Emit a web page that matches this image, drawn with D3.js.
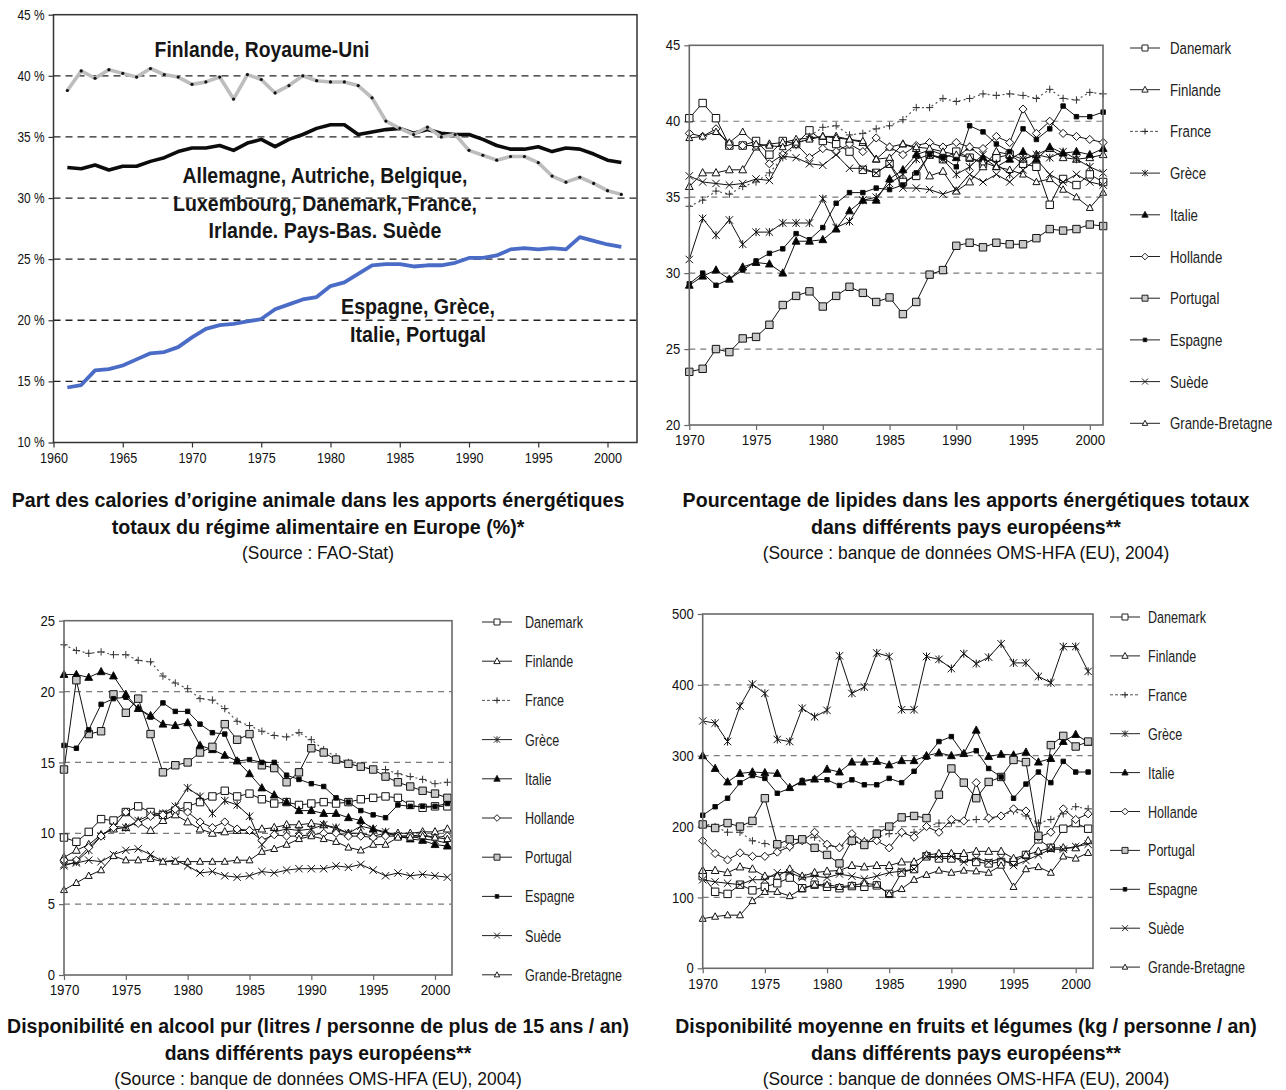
<!DOCTYPE html>
<html><head><meta charset="utf-8">
<script src="https://cdn.jsdelivr.net/npm/d3@7"></script>
<style>
body{margin:0;background:#fff}
svg text{font-family:'Liberation Sans',Arial,sans-serif}
</style></head><body>
<svg id="c" width="1286" height="1090"></svg>
<script>
// ---------- Données ----------
// Part des calories d'origine animale (%), 1961-2001
const anneesAnimal = d3.range(1961, 2002);
const groupeNord = [38.8,40.4,39.8,40.5,40.2,39.9,40.6,40.1,39.9,39.3,39.5,39.9,38.1,40.1,39.7,38.6,39.2,40.0,39.6,39.5,39.5,39.2,38.2,36.3,35.7,35.2,35.8,35.0,35.2,33.9,33.5,33.1,33.4,33.4,32.9,31.8,31.3,31.7,31.2,30.6,30.3];
const groupeCentre = [32.5,32.4,32.7,32.3,32.6,32.6,33.0,33.3,33.8,34.1,34.1,34.3,33.9,34.5,34.8,34.2,34.8,35.2,35.7,36.0,36.0,35.2,35.4,35.6,35.7,35.3,35.6,35.3,35.2,35.2,34.8,34.3,34.0,34.0,34.2,33.8,34.1,34.0,33.6,33.1,32.9];
const groupeSud = [14.5,14.7,15.9,16.0,16.3,16.8,17.3,17.4,17.8,18.6,19.3,19.6,19.7,19.9,20.1,20.9,21.3,21.7,21.9,22.8,23.1,23.8,24.5,24.6,24.6,24.4,24.5,24.5,24.7,25.1,25.1,25.3,25.8,25.9,25.8,25.9,25.8,26.8,26.5,26.2,26.0];
const libellesAnimal = ["Finlande, Royaume-Uni",
  "Allemagne, Autriche, Belgique,", "Luxembourg, Danemark, France,", "Irlande. Pays-Bas. Suède",
  "Espagne, Grèce,", "Italie, Portugal"];

// Séries par pays, 1970-2001
const annees = d3.range(1970, 2002);
const pays = ["Danemark","Finlande","France","Grèce","Italie","Hollande","Portugal","Espagne","Suède","Grande-Bretagne"];

// Lipides (% des apports énergétiques), dans l'ordre de `pays`
const lipides = [
  [40.2,41.2,40.2,38.4,38.4,38.7,37.8,38.7,38.5,39.4,38.7,38.5,38.0,36.8,36.6,37.2,36.0,36.4,37.8,37.5,38.0,37.6,37.2,37.6,37.8,37.2,37.0,34.5,36.2,35.8,36.5,36.0],
  [35.7,36.6,36.6,36.8,36.8,38.3,38.5,38.6,38.8,38.9,39.0,39.0,38.8,38.6,37.5,38.3,38.5,38.2,36.4,36.7,35.4,36.0,37.0,38.0,37.8,37.5,37.8,38.2,37.6,37.5,37.6,37.8],
  [34.4,34.8,35.4,35.2,35.7,36.0,36.6,37.6,38.4,39.0,39.6,39.7,39.1,39.2,39.5,39.7,40.1,40.9,40.9,41.5,41.3,41.5,41.8,41.7,41.8,41.7,41.5,42.1,41.5,41.4,41.9,41.8],
  [30.9,33.6,32.5,33.5,31.9,32.7,32.7,33.3,33.3,33.3,34.9,33.0,33.4,34.8,35.0,35.9,36.5,37.5,37.8,37.5,36.5,37.0,37.8,37.2,36.5,37.5,37.8,37.6,38.0,37.5,37.0,36.6],
  [29.2,29.8,30.2,29.6,30.4,30.7,30.6,30.0,32.1,32.1,32.2,32.9,34.1,34.8,34.8,36.2,36.8,37.8,38.1,37.8,37.6,38.3,37.6,37.0,37.5,38.0,37.5,38.3,37.9,38.0,37.8,38.2],
  [39.2,39.0,39.5,38.4,38.4,38.4,37.2,37.8,38.5,37.6,38.2,38.0,38.5,38.0,38.9,38.3,37.8,38.4,38.6,38.3,38.6,38.3,38.2,39.0,38.6,40.8,39.2,40.0,39.2,39.0,38.8,38.6],
  [23.5,23.7,25.0,24.8,25.7,25.8,26.6,27.9,28.5,28.8,27.8,28.5,29.1,28.7,28.1,28.4,27.3,28.1,29.9,30.2,31.8,32.0,31.7,32.0,31.9,31.9,32.3,32.9,32.8,32.9,33.2,33.1],
  [29.3,30.0,29.2,29.6,30.2,30.8,31.3,31.6,32.6,32.2,33.0,34.6,35.3,35.3,35.6,35.5,35.8,36.6,37.8,37.6,37.0,39.7,39.3,38.5,38.0,39.5,38.8,39.5,41.0,40.3,40.3,40.6],
  [36.4,36.0,35.9,35.8,35.9,36.2,36.1,37.7,37.6,37.2,37.1,37.8,36.9,36.9,36.6,37.2,35.6,35.6,35.5,35.2,35.5,36.5,36.0,36.5,36.0,36.8,37.5,36.5,36.0,36.5,36.0,35.8],
  [38.9,39.0,39.3,38.6,39.3,38.5,38.4,38.3,38.6,38.8,39.0,38.9,38.8,38.7,37.5,37.6,38.5,38.3,38.2,38.0,37.8,37.6,37.3,37.0,36.8,36.5,36.0,36.2,35.5,35.0,34.3,35.3]
];

// Alcool pur (litres / personne de plus de 15 ans / an)
const alcool = [
  [9.7,9.4,10.1,11.0,10.9,11.5,11.9,11.5,11.3,11.6,11.9,12.2,12.6,13.0,12.6,12.8,12.4,12.1,12.2,12.0,12.1,12.2,12.1,12.2,12.4,12.5,12.6,12.5,12.0,11.8,11.9,11.9],
  [8.3,8.8,9.2,9.9,10.3,10.4,10.8,10.2,10.9,11.3,10.8,10.3,10.0,10.1,10.2,10.2,10.3,10.4,10.6,10.6,10.7,10.6,10.3,10.0,10.0,9.8,10.0,10.0,10.0,10.1,10.1,10.3],
  [23.3,22.9,22.7,22.8,22.6,22.6,22.2,22.1,21.1,20.6,20.2,19.5,19.4,18.8,17.9,17.6,17.2,16.9,16.8,17.1,16.6,15.9,15.4,15.0,14.7,14.5,14.5,14.2,14.0,13.8,13.5,13.6],
  [7.7,8.0,8.8,9.8,10.5,10.4,10.9,11.3,11.4,11.9,13.2,12.6,11.4,12.3,12.0,11.2,9.2,10.1,10.3,10.2,10.3,10.6,10.4,10.0,10.5,10.3,10.1,9.8,9.8,9.6,9.5,9.3],
  [21.2,21.2,21.0,21.4,21.1,19.8,18.8,18.3,17.7,17.6,17.8,16.2,15.9,15.5,15.1,14.2,13.2,12.7,12.2,11.6,11.6,11.4,11.4,11.1,10.9,10.3,10.0,9.8,9.6,9.5,9.2,9.1],
  [8.1,8.1,9.0,9.8,10.4,11.5,10.7,11.2,11.3,11.7,11.5,10.8,10.4,10.8,10.3,10.2,9.5,9.9,9.8,9.8,9.9,10.0,10.0,9.8,9.8,9.7,9.8,9.8,9.8,9.9,9.7,9.8],
  [14.5,20.8,17.0,17.2,19.8,18.5,19.5,17.0,14.3,14.8,15.0,15.7,16.1,17.7,16.6,17.0,14.8,14.6,13.6,14.3,16.0,15.7,15.2,14.9,14.7,14.5,14.0,13.6,13.3,13.0,12.8,12.5],
  [16.2,16.0,17.3,19.1,19.5,19.6,18.8,18.2,19.2,18.6,18.6,17.7,17.1,17.0,15.1,15.2,15.0,15.0,14.1,13.8,13.5,13.3,12.5,12.2,11.6,11.3,11.1,12.0,11.9,11.9,11.9,12.1],
  [7.8,7.9,8.1,8.0,8.5,8.8,8.9,8.5,8.0,8.1,7.7,7.2,7.3,7.0,6.9,7.0,7.3,7.2,7.4,7.5,7.5,7.5,7.7,7.6,7.8,7.4,7.0,7.2,7.0,7.1,7.0,6.9],
  [6.0,6.5,7.0,7.4,8.4,8.1,8.1,8.2,8.0,8.0,8.0,8.0,8.0,8.0,8.1,8.1,8.7,8.9,9.2,9.6,9.8,9.6,9.4,9.0,8.8,9.2,9.2,9.7,9.7,9.8,9.7,9.6]
];

// Fruits et légumes (kg / personne / an)
const fruitsLegumes = [
  [130,108,105,118,110,115,120,128,113,118,115,113,116,115,117,105,135,140,158,155,155,155,150,148,150,150,160,182,170,197,205,197],
  [138,138,135,143,140,130,130,140,130,135,137,138,145,143,145,145,150,150,160,162,162,162,165,165,165,155,160,165,170,170,170,180],
  [205,200,192,192,180,176,172,170,182,185,172,172,178,180,185,190,190,192,200,205,205,208,210,210,215,222,215,205,210,218,228,225],
  [349,346,320,370,401,388,323,320,367,355,364,441,388,397,445,440,365,365,440,436,423,444,430,439,458,431,431,412,403,454,454,419],
  [300,282,263,275,277,276,275,255,263,267,281,277,291,291,292,287,293,293,300,304,300,303,336,299,302,301,305,291,296,320,330,319],
  [180,162,153,163,158,158,164,172,180,192,175,170,190,178,180,170,192,185,200,192,210,208,262,212,215,225,222,185,192,225,210,218],
  [203,198,205,200,208,240,175,182,182,170,160,148,180,174,190,200,213,215,212,245,282,262,240,263,270,294,291,187,315,328,313,320],
  [216,228,240,262,272,268,247,254,265,267,266,258,266,259,259,268,262,278,298,320,327,302,307,282,270,240,260,277,262,292,277,277],
  [125,122,120,118,125,125,135,135,128,130,128,133,130,126,130,135,137,140,158,157,158,150,155,150,155,145,152,160,168,168,172,175],
  [70,73,75,75,95,108,108,102,112,118,118,115,117,120,118,105,112,125,132,138,135,138,137,135,145,115,140,143,135,158,155,163]
];

const titres = {
  animal: ["Part des calories d\u2019origine animale dans les apports énergétiques", "totaux du régime alimentaire en Europe (%)*", "(Source : FAO-Stat)"],
  lipides: ["Pourcentage de lipides dans les apports énergétiques totaux", "dans différents pays européens**", "(Source : banque de données OMS-HFA (EU), 2004)"],
  alcool: ["Disponibilité en alcool pur (litres / personne de plus de 15 ans / an)", "dans différents pays européens**", "(Source : banque de données OMS-HFA (EU), 2004)"],
  fruits: ["Disponibilité moyenne en fruits et légumes (kg / personne / an)", "dans différents pays européens**", "(Source : banque de données OMS-HFA (EU), 2004)"]
};

// ---------- Styles des marqueurs par pays ----------
const marqueurs = {
  "Danemark": {shape:"square", fill:"#fff"},
  "Finlande": {shape:"triangle", fill:"#fff"},
  "France": {shape:"plus", fill:"none", dotted:true},
  "Grèce": {shape:"star", fill:"none"},
  "Italie": {shape:"triangle", fill:"#000"},
  "Hollande": {shape:"diamond", fill:"#fff"},
  "Portugal": {shape:"square", fill:"#c8c8c8"},
  "Espagne": {shape:"dot", fill:"#000"},
  "Suède": {shape:"x", fill:"none"},
  "Grande-Bretagne": {shape:"triangle", fill:"#fff", small:true}
};

function markerPath(shape, s) {
  switch (shape) {
    case "square": return `M${-s},${-s}H${s}V${s}H${-s}Z`;
    case "dot": { const d = s*0.6; return `M${-d},${-d}H${d}V${d}H${-d}Z`; }
    case "triangle": return `M0,${-s*1.15}L${s*1.05},${s*0.8}L${-s*1.05},${s*0.8}Z`;
    case "diamond": return `M0,${-s*1.1}L${s*1.1},0L0,${s*1.1}L${-s*1.1},0Z`;
    case "plus": return `M${-s},0H${s}M0,${-s}V${s}`;
    case "x": return `M${-s},${-s}L${s},${s}M${s},${-s}L${-s},${s}`;
    case "star": return `M${-s},${-s}L${s},${s}M${s},${-s}L${-s},${s}M0,${-s*1.1}V${s*1.1}`;
  }
}

// Narrow lettering: scale a text horizontally, either by a ratio (< 2) or to a width in px
function squeeze(sel, target) {
  sel.each(function () {
    const w = this.getComputedTextLength();
    const r = target < 2 ? target : target / w;
    const el = d3.select(this);
    const x = +el.attr("x") || 0, y = +el.attr("y") || 0;
    el.attr("x", 0).attr("y", 0).attr("transform", `translate(${x},${y}) scale(${r},1)`);
  });
}

const svg = d3.select("#c");

function styleAxis(g, color, fontSize, ratio) {
  g.select(".domain").remove();
  g.selectAll(".tick line").attr("stroke", color).attr("stroke-width", 1.2);
  g.selectAll(".tick text").attr("fill", "#111").attr("font-size", fontSize)
    .attr("font-family", "'Liberation Sans',Arial,sans-serif").call(squeeze, ratio);
}

function caption(lines, widths, cx, y0) {
  const t = svg.append("g").attr("text-anchor", "middle").attr("fill", "#111");
  t.append("text").attr("x", cx).attr("y", y0).attr("font-size", 21).attr("font-weight", "bold").text(lines[0]).call(squeeze, widths[0]);
  t.append("text").attr("x", cx).attr("y", y0 + 27).attr("font-size", 21).attr("font-weight", "bold").text(lines[1]).call(squeeze, widths[1]);
  t.append("text").attr("x", cx).attr("y", y0 + 52).attr("font-size", 18).text(lines[2]).call(squeeze, widths[2]);
}

// ---------- Graphique 1 : calories d'origine animale ----------
(function () {
  const x = d3.scaleLinear().domain([1960, 2000]).range([53.5, 607.5]);
  const y = d3.scaleLinear().domain([10, 45]).range([442.5, 14.7]);
  const right = 637;
  const g = svg.append("g");
  g.selectAll("line.grid").data([15, 20, 25, 30, 35, 40]).join("line")
    .attr("x1", x(1960)).attr("x2", right).attr("y1", d => y(d)).attr("y2", d => y(d))
    .attr("stroke", "#222").attr("stroke-width", 1.3).attr("stroke-dasharray", "7,5");
  g.append("rect").attr("x", x(1960)).attr("y", y(45)).attr("width", right - x(1960)).attr("height", y(10) - y(45))
    .attr("fill", "none").attr("stroke", "#333").attr("stroke-width", 1.5);
  g.append("g").attr("transform", `translate(${x(1960)},0)`)
    .call(d3.axisLeft(y).tickValues(d3.range(10, 46, 5)).tickFormat(d => d + " %").tickSize(5).tickPadding(4))
    .call(a => styleAxis(a, "#333", 14, 0.85));
  g.append("g").attr("transform", `translate(0,${y(10)})`)
    .call(d3.axisBottom(x).tickValues(d3.range(1960, 2001, 5)).tickFormat(d3.format("d")).tickSize(5).tickPadding(6))
    .call(a => styleAxis(a, "#333", 14, 0.9));

  const line = d3.line().x((d, i) => x(anneesAnimal[i])).y(d => y(d));
  g.append("path").datum(groupeCentre).attr("d", line).attr("fill", "none").attr("stroke", "#0c0c0c").attr("stroke-width", 3.6).attr("stroke-linejoin", "round");
  g.append("path").datum(groupeNord).attr("d", line).attr("fill", "none").attr("stroke", "#bdbdbd").attr("stroke-width", 3.6).attr("stroke-linejoin", "round");
  g.selectAll("circle.pt").data(groupeNord).join("circle")
    .attr("cx", (d, i) => x(anneesAnimal[i])).attr("cy", d => y(d)).attr("r", 1.6).attr("fill", "#111");
  g.append("path").datum(groupeSud).attr("d", line).attr("fill", "none").attr("stroke", "#4a6cc6").attr("stroke-width", 3.8).attr("stroke-linejoin", "round");

  const lab = g.append("g").attr("font-weight", "bold").attr("font-size", 22).attr("fill", "#161616").attr("text-anchor", "middle");
  const pos = [[262, 57, 215], [325, 183, 285], [325, 211, 304], [325, 238, 233], [418, 314, 154], [418, 342, 136]];
  libellesAnimal.forEach((t, i) => {
    lab.append("text").attr("x", pos[i][0]).attr("y", pos[i][1]).text(t).call(squeeze, pos[i][2]);
  });
  caption(titres.animal, [613, 413, 152], 318, 507);
})();

// ---------- Graphiques par pays ----------
function countryPanel(opt) {
  const x = d3.scaleLinear().domain([1970, 2000]).range(opt.xr);
  const y = d3.scaleLinear().domain(opt.yd).range(opt.yr);
  const g = svg.append("g");
  g.selectAll("line.grid").data(opt.grid).join("line")
    .attr("x1", opt.xr[0]).attr("x2", opt.right).attr("y1", d => y(d)).attr("y2", d => y(d))
    .attr("stroke", "#7a7a7a").attr("stroke-width", 1.2).attr("stroke-dasharray", "6,5");
  g.append("g").attr("transform", `translate(${opt.xr[0]},0)`)
    .call(d3.axisLeft(y).tickValues(opt.yTicks).tickSize(5).tickPadding(4))
    .call(a => styleAxis(a, "#666", 14.5, 0.9));
  g.append("g").attr("transform", `translate(0,${opt.yr[0]})`)
    .call(d3.axisBottom(x).tickValues(d3.range(1970, 2001, 5)).tickFormat(d3.format("d")).tickSize(5).tickPadding(5))
    .call(a => styleAxis(a, "#666", 14.5, 0.92));

  const line = d3.line().x((d, i) => x(annees[i])).y(d => y(d));
  pays.forEach((p, k) => {
    const m = marqueurs[p];
    const s = g.append("g");
    s.append("path").datum(opt.data[k]).attr("d", line).attr("fill", "none")
      .attr("stroke", m.dotted ? "#555" : "#111").attr("stroke-width", m.dotted ? 1.2 : 1)
      .attr("stroke-dasharray", m.dotted ? "2,3" : null);
    const sz = m.small ? 3.3 : 3.7;
    s.selectAll("path.mk").data(opt.data[k]).join("path")
      .attr("transform", (d, i) => `translate(${x(annees[i])},${y(d)})`)
      .attr("d", markerPath(m.shape, sz))
      .attr("fill", m.fill).attr("stroke", m.shape === "plus" ? "#333" : "#111").attr("stroke-width", 1);
  });
  g.append("rect").attr("x", opt.xr[0]).attr("y", opt.yr[1]).attr("width", opt.right - opt.xr[0]).attr("height", opt.yr[0] - opt.yr[1])
    .attr("fill", "none").attr("stroke", "#6a6a6a").attr("stroke-width", 1.6);

  // légende
  const lg = svg.append("g");
  pays.forEach((p, k) => {
    const m = marqueurs[p];
    const yy = opt.leg.y0 + k * opt.leg.dy;
    lg.append("line").attr("x1", opt.leg.x).attr("x2", opt.leg.x + 30).attr("y1", yy).attr("y2", yy)
      .attr("stroke", m.dotted ? "#555" : "#222").attr("stroke-width", 1).attr("stroke-dasharray", m.dotted ? "3,2" : null);
    lg.append("path").attr("transform", `translate(${opt.leg.x + 15},${yy})`).attr("d", markerPath(m.shape, m.small ? 2.6 : 3))
      .attr("fill", m.fill).attr("stroke", "#222").attr("stroke-width", 1);
    lg.append("text").attr("x", opt.leg.x + opt.leg.tx).attr("y", yy + 6).attr("font-size", 17).attr("fill", "#222")
      .text(p).call(squeeze, opt.leg.ratio);
  });
}

countryPanel({
  data: lipides, xr: [689.3, 1089.8], right: 1103, yd: [20, 45], yr: [425, 45.3],
  yTicks: d3.range(20, 46, 5), grid: [25, 30, 35, 40],
  leg: {x: 1130, y0: 48, dy: 41.7, tx: 40, ratio: 0.78}
});
caption(titres.lipides, [567, 310, 407], 966, 507);

countryPanel({
  data: alcool, xr: [64, 435], right: 452, yd: [0, 25], yr: [975, 620.7],
  yTicks: d3.range(0, 26, 5), grid: [5, 10, 15, 20],
  leg: {x: 482, y0: 622, dy: 39.2, tx: 43, ratio: 0.74}
});
caption(titres.alcool, [622, 307, 408], 318, 1033);

countryPanel({
  data: fruitsLegumes, xr: [702.7, 1075.7], right: 1093, yd: [0, 500], yr: [968.3, 614],
  yTicks: d3.range(0, 501, 100), grid: [100, 200, 300, 400],
  leg: {x: 1110, y0: 617, dy: 38.9, tx: 38, ratio: 0.74}
});
caption(titres.fruits, [582, 310, 407], 966, 1033);
</script>
</body></html>
